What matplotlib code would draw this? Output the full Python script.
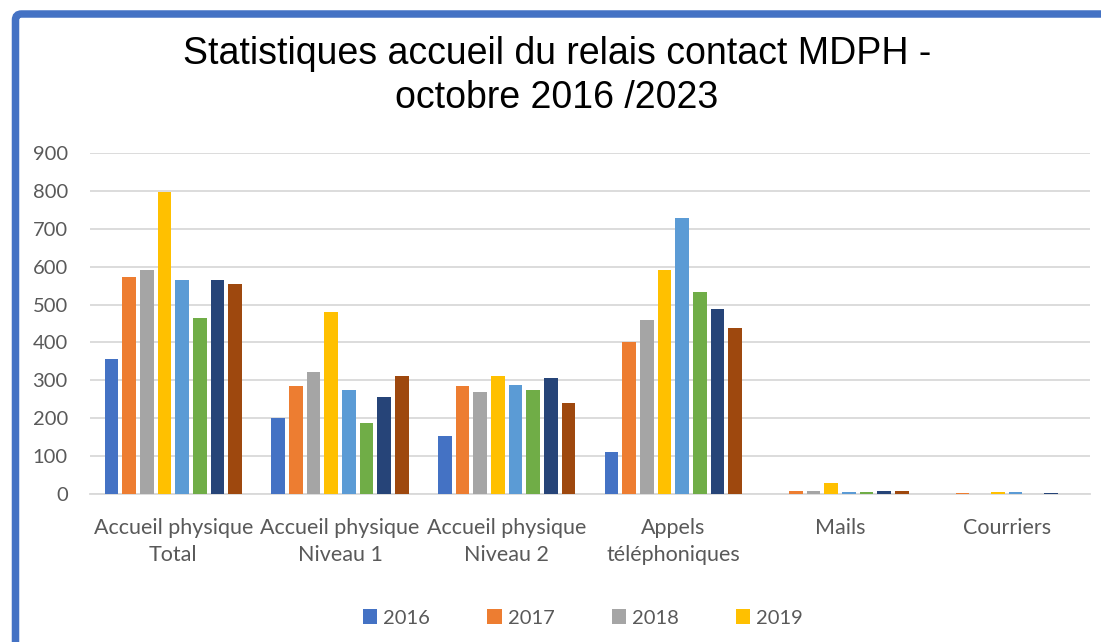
import matplotlib.pyplot as plt
import numpy as np
from matplotlib.patches import FancyBboxPatch
from matplotlib.transforms import IdentityTransform

# categories on the x axis
categories = ["Accueil physique\nTotal", "Accueil physique\nNiveau 1", "Accueil physique\nNiveau 2",
              "Appels\ntéléphoniques", "Mails", "Courriers"]

# values, one list per year
years = ["2016", "2017", "2018", "2019", "2020", "2021", "2022", "2023"]
v2016 = [355, 200, 152, 110, 0, 0]
v2017 = [573, 286, 284, 401, 9, 2]
v2018 = [591, 321, 268, 460, 8, 1]
v2019 = [797, 481, 312, 592, 28, 6]
v2020 = [566, 275, 289, 729, 6, 5]
v2021 = [464, 188, 274, 532, 6, 1]
v2022 = [565, 255, 307, 487, 7, 2]
v2023 = [554, 311, 240, 439, 9, 1]
series = [v2016, v2017, v2018, v2019, v2020, v2021, v2022, v2023]

# only the first legend row is visible in the original crop
legend_years = ["2016", "2017", "2018", "2019"]

yticks = [0, 100, 200, 300, 400, 500, 600, 700, 800, 900]

colors = ["#4472C4", "#ED7D31", "#A5A5A5", "#FFC000",
          "#5B9BD5", "#70AD47", "#264478", "#9E480E"]
text_col = "#595959"
grid_col = "#D9D9D9"

W, H = 1101, 642
fig = plt.figure(figsize=(W / 100, H / 100), dpi=100, facecolor="white")
ax = fig.add_axes([90 / W, (H - 494) / H, 1000 / W, (494 - 153) / H])

x = np.arange(len(categories))
step = 0.106
bars = {}
for i, (yr, vals) in enumerate(zip(years, series)):
    bars[yr] = ax.bar(x + (i - 3.5) * step, vals, width=0.082, color=colors[i], label=yr, zorder=3)

ax.set_xlim(-0.5, len(categories) - 0.5)
ax.set_ylim(0, 900)
ax.set_yticks(yticks)
ax.set_xticks(x)
ax.set_xticklabels(categories, fontfamily="Lato", fontsize=15.5, color=text_col, linespacing=1.45)
for lab in ax.get_yticklabels():
    lab.set_fontfamily("Lato")
    lab.set_fontsize(14.5)
    lab.set_color(text_col)
ax.tick_params(axis="y", length=0, pad=16)
ax.tick_params(axis="x", length=0, pad=17)
ax.yaxis.grid(True, color=grid_col, linewidth=1.3, zorder=0)
ax.set_axisbelow(True)
for s in ["top", "right", "left"]:
    ax.spines[s].set_visible(False)
ax.spines["bottom"].set_color(grid_col)
ax.spines["bottom"].set_linewidth(1.3)

fig.text(557 / W, 1 - 76 / H, "Statistiques accueil du relais contact MDPH -\noctobre 2016 /2023",
         ha="center", va="center", fontsize=27, fontfamily="Liberation Sans", color="black",
         linespacing=1.25)

leg = fig.legend([bars[y] for y in legend_years], legend_years,
                 loc="center", bbox_to_anchor=(583 / W, 1 - 618 / H), ncol=4,
                 frameon=False, prop={"family": "Lato", "size": 14.5},
                 handlelength=0.7, handleheight=0.7, handletextpad=0.3,
                 columnspacing=2.85, borderpad=0)
for t in leg.get_texts():
    t.set_color(text_col)

# blue frame of the original chart box, cut by the image edges
frame = FancyBboxPatch((15.5, -60), 1300, H - 14 + 60,
                       boxstyle="round,pad=0,rounding_size=6",
                       transform=IdentityTransform(), facecolor="none",
                       edgecolor="#4472C4", linewidth=5.4, zorder=10)
fig.add_artist(frame)

fig.savefig("out.png", dpi=100, facecolor="white")
